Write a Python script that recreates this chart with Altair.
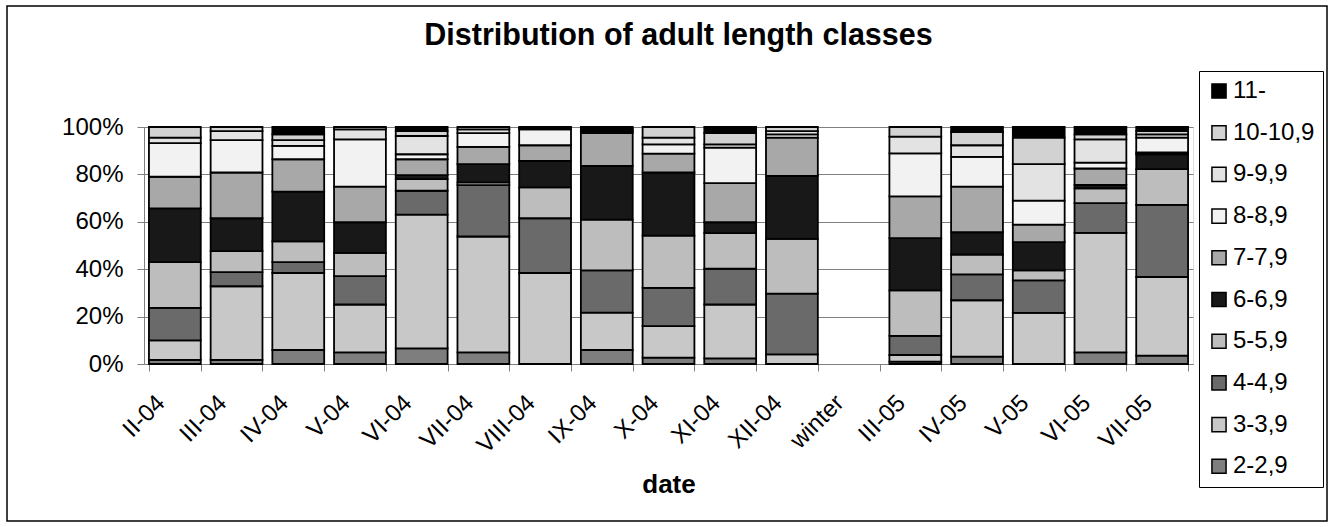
import altair as alt
import pandas as pd

# Sampling dates (the "winter" slot has no sample and stays empty)
dates = ["II-04", "III-04", "IV-04", "V-04", "VI-04", "VII-04", "VIII-04", "IX-04",
         "X-04", "XI-04", "XII-04", "winter", "III-05", "IV-05", "V-05", "VI-05", "VII-05"]

# Length classes, smallest first (bottom of each stack)
classes = ["2-2,9", "3-3,9", "4-4,9", "5-5,9", "6-6,9",
           "7-7,9", "8-8,9", "9-9,9", "10-10,9", "11-"]

# Share of each length class (%) per date, same order as `dates`
c2 = [1.7, 1.7, 5.9, 4.9, 6.6, 4.9, 0.0, 5.9, 2.7, 2.4, 0.0, 0, 1.0, 3.1, 0.0, 4.9, 3.5]
c3 = [8.3, 31.1, 32.5, 20.2, 56.4, 48.9, 38.4, 15.8, 13.3, 22.7, 4.1, 0, 2.8, 23.8, 21.6, 50.4, 33.2]
c4 = [13.7, 6.0, 4.6, 12.0, 10.1, 21.7, 23.1, 17.8, 16.1, 15.1, 25.6, 0, 8.1, 10.9, 13.7, 12.6, 30.4]
c5 = [19.3, 8.8, 8.7, 9.8, 4.9, 1.1, 13.0, 21.4, 22.1, 15.0, 23.1, 0, 19.2, 8.4, 4.2, 6.2, 15.1]
c6 = [22.7, 13.9, 21.0, 12.9, 1.7, 7.7, 11.2, 22.7, 26.6, 4.6, 26.6, 0, 22.0, 9.4, 11.9, 1.5, 6.3]
c7 = [13.3, 19.3, 13.7, 15.0, 6.7, 7.3, 6.6, 13.8, 8.0, 16.5, 16.1, 0, 17.6, 19.2, 7.4, 6.9, 0.8]
c8 = [14.2, 13.7, 5.6, 20.0, 2.1, 5.8, 6.7, 0.6, 3.9, 15.0, 1.4, 0, 18.2, 12.6, 10.1, 2.5, 6.2]
c9 = [2.3, 3.8, 2.5, 4.2, 7.7, 1.6, 0.5, 0.7, 2.8, 1.4, 1.4, 0, 7.0, 4.9, 15.4, 9.8, 1.4]
c10 = [4.5, 1.7, 2.4, 1.0, 2.1, 1.0, 0.5, 0.7, 4.5, 4.7, 1.7, 0, 4.1, 5.6, 11.2, 2.1, 1.4]
c11 = [0.0, 0.0, 3.1, 0.0, 1.7, 0.0, 0.0, 0.6, 0.0, 2.6, 0.0, 0, 0.0, 2.1, 4.5, 3.1, 1.7]

series = [c2, c3, c4, c5, c6, c7, c8, c9, c10, c11]

# Grey tones standing in for the hatch fills, same order as `classes`
shades = ["#7e7e7e", "#c8c8c8", "#6a6a6a", "#bdbdbd", "#181818",
          "#a8a8a8", "#f2f2f2", "#e3e3e3", "#d2d2d2", "#000000"]

rows = []
for k, (cls, vals) in enumerate(zip(classes, series)):
    for d, v in zip(dates, vals):
        if v > 0:
            rows.append({"date": d, "cls": cls, "pct": v, "rank": k})
df = pd.DataFrame(rows)

FONT = "Liberation Sans"
legend_order = classes[::-1]
legend_shades = shades[::-1]

bars = alt.Chart(df).mark_bar(stroke="black", strokeWidth=1.8).encode(
    x=alt.X("date:N", sort=dates, scale=alt.Scale(domain=dates, paddingInner=0.16, paddingOuter=0.08),
            title="date",
            axis=alt.Axis(labelAngle=-45, labelAlign="right", labelBaseline="middle",
                          labelFontSize=24, labelFont=FONT, labelColor="black",
                          labelPadding=28, labelOffset=-14,
                          tickBand="extent", tickSize=7, tickColor="#808080", domainColor="#808080",
                          titleFontSize=26, titleFont=FONT, titleFontWeight="bold", titleColor="black",
                          titlePadding=14)),
    y=alt.Y("pct:Q", stack="zero", scale=alt.Scale(domain=[0, 100], nice=False),
            title=None,
            axis=alt.Axis(values=[0, 20, 40, 60, 80, 100], labelExpr="datum.value + '%'",
                          labelFontSize=24, labelFont=FONT, labelColor="black", labelPadding=14,
                          tickSize=7, tickColor="#808080", domainColor="#808080",
                          grid=True, gridColor="#808080", gridWidth=1)),
    color=alt.Color("cls:N", scale=alt.Scale(domain=legend_order, range=legend_shades),
                    legend=alt.Legend(title=None, orient="none", legendX=1055, legendY=-56,
                                      padding=8, rowPadding=17.7, symbolType="square", symbolSize=200,
                                      symbolStrokeColor="black", symbolStrokeWidth=1.5,
                                      labelFontSize=24, labelFont=FONT, labelColor="black",
                                      labelOffset=2, strokeColor="black", fillColor="white")),
    order=alt.Order("rank:Q", sort="ascending"),
)

frame = alt.Chart(alt.Data(values=[{}])).mark_rect(fill="transparent", stroke="black", strokeWidth=1.5).encode(
    x=alt.value(-137), x2=alt.value(1183), y=alt.value(-121), y2=alt.value(394)
)

chart = alt.layer(bars, frame).properties(
    width=1049, height=237,
    autosize=alt.AutoSizeParams(type="none"),
    padding={"left": 144, "top": 127, "right": 142, "bottom": 163},
    title=alt.TitleParams("Distribution of adult length classes", fontSize=30.5, font=FONT,
                          fontWeight="bold", color="black", anchor="middle", frame="group",
                          dx=10, offset=-46),
).configure_view(stroke=None).configure(background="white")

chart.save("out.html", embed_options={"renderer": "svg", "actions": False})
